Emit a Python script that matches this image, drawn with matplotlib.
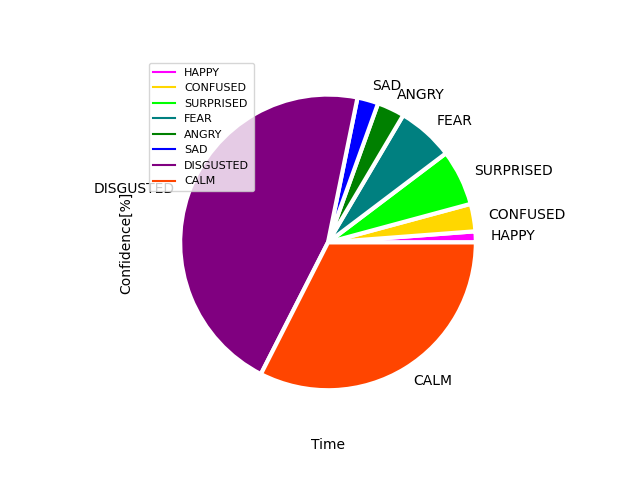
import matplotlib
matplotlib.use("Agg")
import matplotlib.pyplot as plt
from matplotlib.lines import Line2D

emotions = ["HAPPY", "CONFUSED", "SURPRISED", "FEAR", "ANGRY", "SAD", "DISGUSTED", "CALM"]
confidence = [1.2, 3.0, 6.1, 6.2, 3.0, 2.3, 45.7, 32.5]
colors = ["magenta", "gold", "lime", "teal", "green", "blue", "purple", "orangered"]

fig, ax = plt.subplots(figsize=(6.4, 4.8), dpi=100)
ax.pie(confidence, labels=emotions, colors=colors,
       wedgeprops={"linewidth": 3, "edgecolor": "white"})
ax.set_xlabel("Time", labelpad=7.5)
ax.set_ylabel("Confidence[%]", labelpad=7.5)
handles = [Line2D([0], [0], color=c) for c in colors]
ax.legend(handles, emotions, loc="upper left", fontsize=8)
fig.savefig("out.png")
